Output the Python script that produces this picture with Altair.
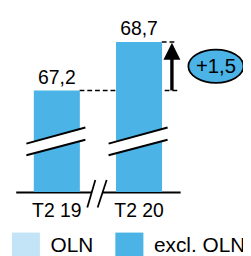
import altair as alt
import pandas as pd

# ---- data ----
periods = ["T2 19", "T2 20"]
values = [67.2, 68.7]
value_labels = ["67,2", "68,7"]
diff_label = "+1,5"
legend_labels = ["OLN", "excl. OLN"]

BASE = 64.05   # value at the (broken) baseline
TOP = 69.63    # top of the value scale

BLUE = "#4BB3E6"
LIGHT = "#C2E4F6"
FONT = "Liberation Sans"

df = pd.DataFrame({
    "period": periods,
    "value": values,
    "label": value_labels,
    "series": ["excl. OLN"] * len(periods),
    "base": [BASE] * len(periods),
})
one = pd.DataFrame({"k": [0]})

yscale = alt.Scale(domain=[BASE, TOP], nice=False, zero=False)
xscale = alt.Scale(domain=periods, range=[8, 178], paddingInner=0.44, paddingOuter=0.22)

x_enc = alt.X("period:N", scale=xscale,
              axis=alt.Axis(title=None, ticks=False, labelAngle=0, labelFontSize=20,
                            labelFont=FONT, labelColor="black", domainColor="black",
                            domainWidth=2, labelPadding=9))

base = alt.Chart(df)

# dashed reference lines (behind bars)
dash_low = alt.Chart(one).mark_rule(color="black", strokeWidth=1.5, strokeDash=[5, 3]).encode(
    x=alt.value(74), x2=alt.value(177), y=alt.Y(datum=values[0], scale=yscale, axis=None))
dash_high = alt.Chart(one).mark_rule(color="black", strokeWidth=1.5, strokeDash=[5, 3]).encode(
    x=alt.value(159), x2=alt.value(175), y=alt.Y(datum=values[1], scale=yscale, axis=None))

bars = base.mark_bar().encode(
    x=x_enc,
    y=alt.Y("value:Q", scale=yscale, axis=None, title=None),
    y2="base:Q",
    color=alt.Color("series:N", scale=alt.Scale(domain=legend_labels, range=[LIGHT, BLUE]),
                    legend=alt.Legend(title=None, orient="none", legendX=4, legendY=228,
                                      direction="horizontal", symbolType="square",
                                      symbolSize=841, symbolStrokeWidth=0,
                                      labelFontSize=21.5, labelFont=FONT, labelColor="black",
                                      labelOffset=11, columnPadding=22, padding=0,
                                      values=legend_labels)),
)

labels = base.mark_text(dy=-7, baseline="alphabetic", fontSize=20, font=FONT, color="black").encode(
    x="period:N", y=alt.Y("value:Q", scale=yscale, axis=None), text="label:N")


def seg(x1, y1, x2, y2, color="black", width=2):
    return alt.Chart(one).mark_rule(color=color, strokeWidth=width, strokeCap="butt").encode(
        x=alt.value(x1), y=alt.value(y1), x2=alt.value(x2), y2=alt.value(y2))


breaks = []
for dx in (0, 85):
    breaks.append(seg(19 + dx, 142, 80 + dx, 125.7, color="white", width=11))
    breaks.append(seg(19 + dx, 136, 80 + dx, 119.3))
    breaks.append(seg(19 + dx, 148, 80 + dx, 132))

# axis break
breaks.append(seg(86.5, 186, 97.6, 186, color="white", width=5))
breaks.append(seg(82, 202, 90.3, 173.7, width=1.8))
breaks.append(seg(92.7, 202, 102, 173.7, width=1.8))

# arrow
shaft = alt.Chart(one).mark_rule(color="black", strokeWidth=3.5).encode(
    x=alt.value(169.5), y=alt.Y(datum=values[0], scale=yscale, axis=None), y2=alt.value(45))
head = alt.Chart(one).mark_point(shape="M0,-1L1,1L-1,1Z", size=306, filled=True, fill="black",
                                 opacity=1, yOffset=9.5).encode(
    x=alt.value(169.5), y=alt.Y(datum=values[1], scale=yscale, axis=None))

mid = (values[0] + values[1]) / 2
ellipse = alt.Chart(one).mark_point(shape="M-1,0A1,0.6 0 1,0 1,0A1,0.6 0 1,0 -1,0Z",
                                    size=3249, filled=True, fill=BLUE, stroke="black",
                                    strokeWidth=1.8, opacity=1).encode(
    x=alt.value(215), y=alt.Y(datum=mid, scale=yscale, axis=None))
diff_text = alt.Chart(one).mark_text(fontSize=21, font=FONT, color="black", baseline="middle",
                                     dy=1).encode(
    x=alt.value(215), y=alt.Y(datum=mid, scale=yscale, axis=None), text=alt.value(diff_label))

chart = alt.layer(dash_low, dash_high, bars, labels, *breaks, shaft, head, ellipse, diff_text).properties(
    width=235, height=186, autosize="none",
    padding={"left": 0, "top": 0, "right": 8, "bottom": 62},
).configure_view(stroke=None)

chart.save("out.html", embed_options={"renderer": "svg", "actions": False})
